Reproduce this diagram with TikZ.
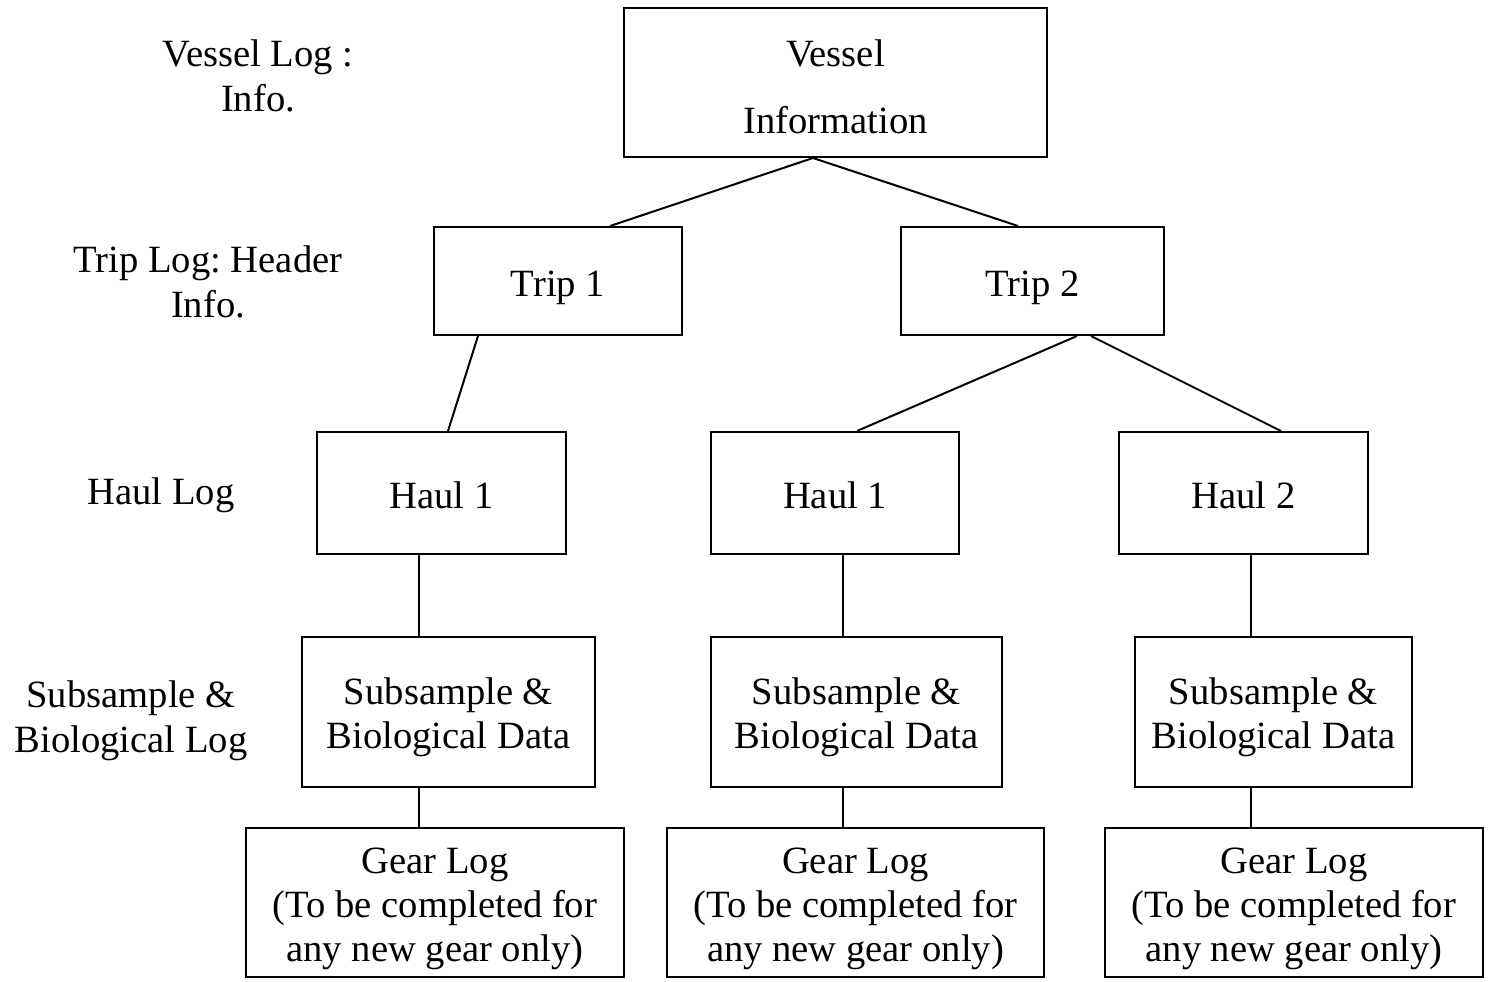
\documentclass[tikz,border=0pt]{standalone}
\usepackage{fontspec}
\setmainfont{Liberation Serif}
\frenchspacing
\newcommand\fs{\fontsize{19.3}{22}\selectfont}
\begin{document}
\begin{tikzpicture}[x=0.5pt,y=-0.5pt,
  box/.style={draw,line width=1pt,inner sep=0pt},
  lbl/.style={align=center,font=\fs,inner sep=0pt},
  conn/.style={line width=1pt}]
\useasboundingbox[fill=white] (0,0) rectangle (1490,981);
% left labels
\node[lbl] (lv) at (258,75.5) {Vessel Log :\\[0.5pt]Info.};
\node[lbl] (lt) at (208,282) {Trip Log: Header\\[0.5pt]Info.};
\node[lbl] (lh) at (161,495) {Haul Log};
\node[lbl] (ls) at (131,720.5) {Subsample \&\\[0.5pt]Biological Log};
% boxes
\node[box,minimum width=211.5pt,minimum height=74.5pt] (v) at (835.5,82.5) {};
\node[box,minimum width=124pt,minimum height=54pt] (t1) at (558,281) {};
\node[box,minimum width=131.5pt,minimum height=54pt] (t2) at (1032.5,281) {};
\node[box,minimum width=124.5pt,minimum height=61pt] (hL) at (441.5,493) {};
\node[box,minimum width=124pt,minimum height=61pt] (hM) at (835,493) {};
\node[box,minimum width=124.5pt,minimum height=61pt] (hR) at (1243.5,493) {};
\node[box,minimum width=146.5pt,minimum height=75pt] (sL) at (448.5,712) {};
\node[box,minimum width=145.5pt,minimum height=75pt] (sM) at (856.5,712) {};
\node[box,minimum width=138.5pt,minimum height=75pt] (sR) at (1273.5,712) {};
\node[box,minimum width=189pt,minimum height=74.5pt] (gL) at (435,902.5) {};
\node[box,minimum width=188.5pt,minimum height=74.5pt] (gM) at (855.5,902.5) {};
\node[box,minimum width=189pt,minimum height=74.5pt] (gR) at (1294,902.5) {};
% box texts
\node[lbl] (vT) at ([yshift=-2pt]v.center) {Vessel\\[11.5pt]Information};
\node[lbl] (t1T) at ([yshift=-3.5pt]t1.center) {Trip 1};
\node[lbl] (t2T) at ([yshift=-3.5pt]t2.center) {Trip 2};
\node[lbl] (hLT) at ([yshift=-1pt]hL.center) {Haul 1};
\node[lbl] (hMT) at ([yshift=-1pt]hM.center) {Haul 1};
\node[lbl] (hRT) at ([yshift=-1pt]hR.center) {Haul 2};
\node[lbl] (sLT) at ([yshift=-2.5pt]sL.center) {Subsample \&\\Biological Data};
\node[lbl] (sMT) at ([yshift=-2.5pt]sM.center) {Subsample \&\\Biological Data};
\node[lbl] (sRT) at ([yshift=-2.5pt]sR.center) {Subsample \&\\Biological Data};
\node[lbl] (gLT) at ([yshift=-3pt]gL.center) {Gear Log\\(To be completed for\\any new gear only)};
\node[lbl] (gMT) at ([yshift=-3pt]gM.center) {Gear Log\\(To be completed for\\any new gear only)};
\node[lbl] (gRT) at ([yshift=-3pt]gR.center) {Gear Log\\(To be completed for\\any new gear only)};
% connectors
\draw[conn] ([xshift=-11.25pt]v.south) -- ([xshift=26pt]t1.north);
\draw[conn] ([xshift=-11.25pt]v.south) -- ([xshift=-7.25pt]t2.north);
\draw[conn] ([xshift=-40pt]t1.south) -- ([xshift=3.25pt]hL.north);
\draw[conn] ([xshift=22.25pt]t2.south) -- ([xshift=11pt]hM.north);
\draw[conn] ([xshift=29.25pt]t2.south) -- ([xshift=18.75pt]hR.north);
\draw[conn] ([xshift=-11.25pt]hL.south) -- ([xshift=-14.75pt]sL.north);
\draw[conn] ([xshift=4pt]hM.south) -- ([xshift=-6.75pt]sM.north);
\draw[conn] ([xshift=3.75pt]hR.south) -- ([xshift=-11.25pt]sR.north);
\draw[conn] ([xshift=-14.75pt]sL.south) -- ([xshift=-8pt]gL.north);
\draw[conn] ([xshift=-6.75pt]sM.south) -- ([xshift=-6.25pt]gM.north);
\draw[conn] ([xshift=-11.25pt]sR.south) -- ([xshift=-21.5pt]gR.north);
\end{tikzpicture}
\end{document}
